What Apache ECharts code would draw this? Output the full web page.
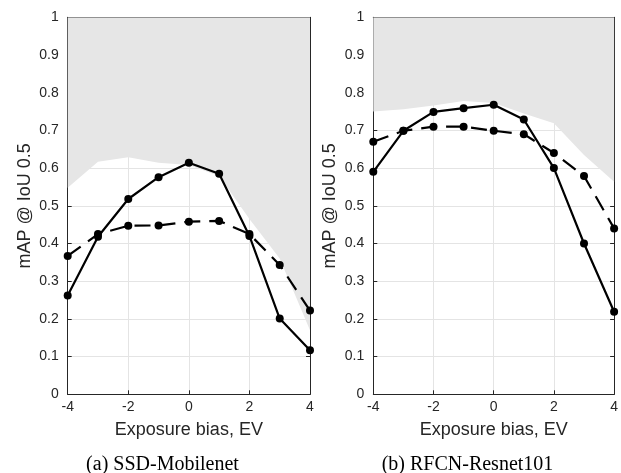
<!DOCTYPE html>
<html>
<head>
<meta charset="utf-8">
<script src="https://cdn.jsdelivr.net/npm/echarts@6/dist/echarts.min.js"></script>
<style>
html, body { margin: 0; padding: 0; background: #fff; }
#chart { width: 621px; height: 473px; }
</style>
</head>
<body>
<div id="chart"></div>
<script>
// exposure bias, EV
var evs = [-4, -3, -2, -1, 0, 1, 2, 3, 4];

// (a) SSD-Mobilenet
var ssdSolid = [0.262, 0.418, 0.518, 0.576, 0.614, 0.585, 0.420, 0.201, 0.117];
var ssdDashed = [0.367, 0.425, 0.447, 0.448, 0.458, 0.460, 0.425, 0.343, 0.222];
var ssdUpper = [0.548, 0.617, 0.629, 0.614, 0.608, 0.579, 0.465, 0.360, 0.170];

// (b) RFCN-Resnet101
var rfcnSolid = [0.590, 0.699, 0.749, 0.759, 0.768, 0.729, 0.600, 0.400, 0.219];
var rfcnDashed = [0.670, 0.699, 0.710, 0.710, 0.699, 0.690, 0.640, 0.579, 0.440];
var rfcnUpper = [0.750, 0.756, 0.766, 0.778, 0.773, 0.745, 0.719, 0.635, 0.564];

var captions = ['(a) SSD-Mobilenet', '(b) RFCN-Resnet101'];

var sans = 'Liberation Sans, Arial, Helvetica, sans-serif';
var ink = '#262626';

function pairs(ys){
	return evs.map(function(x, i){ return [x, ys[i]]; });
}

var grids = [
	{left: 67.7, top: 17.3, width: 242.3, height: 377},
	{left: 373.3, top: 17.3, width: 242.4, height: 377}
];

var xAxis = [], yAxis = [], series = [];

grids.forEach(function(g, gi){
	// bottom + top x axes
	xAxis.push({
		type: 'value', gridIndex: gi, min: -4, max: 4, interval: 2,
		name: 'Exposure bias, EV', nameLocation: 'middle', nameGap: 27,
		nameTextStyle: {fontFamily: sans, fontSize: 18, color: ink},
		axisLine: {show: true, onZero: false, lineStyle: {color: ink, width: 1}},
		axisTick: {show: true, inside: true, length: 4, lineStyle: {color: ink}},
		axisLabel: {margin: 6, fontFamily: sans, fontSize: 14, color: ink},
		splitLine: {show: true, lineStyle: {color: '#e4e4e4', width: 1}}
	});
	xAxis.push({
		type: 'value', gridIndex: gi, position: 'top', min: -4, max: 4, interval: 2,
		axisLine: {show: true, onZero: false, lineStyle: {color: ink, width: 1}},
		axisTick: {show: true, inside: true, length: 4, lineStyle: {color: ink}},
		axisLabel: {show: false},
		splitLine: {show: false}
	});
	// left + right y axes
	yAxis.push({
		type: 'value', gridIndex: gi, min: 0, max: 1, interval: 0.1,
		name: 'mAP @ IoU 0.5', nameLocation: 'middle', nameGap: 34,
		nameTextStyle: {fontFamily: sans, fontSize: 18, color: ink},
		axisLine: {show: true, onZero: false, lineStyle: {color: ink, width: 1}},
		axisTick: {show: true, inside: true, length: 4, lineStyle: {color: ink}},
		axisLabel: {
			margin: 9, fontFamily: sans, fontSize: 14, color: ink,
			formatter: function(v){ return String(Math.round(v * 10) / 10); }
		},
		splitLine: {show: true, lineStyle: {color: '#e4e4e4', width: 1}}
	});
	yAxis.push({
		type: 'value', gridIndex: gi, position: 'right', min: 0, max: 1, interval: 0.1,
		axisLine: {show: true, onZero: false, lineStyle: {color: ink, width: 1}},
		axisTick: {show: true, inside: true, length: 4, lineStyle: {color: ink}},
		axisLabel: {show: false},
		splitLine: {show: false}
	});
});

var sets = [
	{upper: ssdUpper, solid: ssdSolid, dashed: ssdDashed},
	{upper: rfcnUpper, solid: rfcnSolid, dashed: rfcnDashed}
];

sets.forEach(function(s, gi){
	var xi = gi * 2, yi = gi * 2;
	// grey region above the upper bound
	series.push({
		type: 'line', xAxisIndex: xi, yAxisIndex: yi, data: pairs(s.upper),
		showSymbol: false, silent: true, z: 1,
		lineStyle: {width: 0, color: '#e6e6e6'},
		areaStyle: {origin: 'end', color: '#e6e6e6', opacity: 1}
	});
	series.push({
		type: 'line', xAxisIndex: xi, yAxisIndex: yi, data: pairs(s.dashed),
		symbol: 'circle', symbolSize: 8, z: 3,
		itemStyle: {color: '#000'},
		lineStyle: {color: '#000', width: 2.2, type: [16, 9]}
	});
	series.push({
		type: 'line', xAxisIndex: xi, yAxisIndex: yi, data: pairs(s.solid),
		symbol: 'circle', symbolSize: 8, z: 4,
		itemStyle: {color: '#000'},
		lineStyle: {color: '#000', width: 2.2}
	});
});

var chart = echarts.init(document.getElementById('chart'), null, {renderer: 'canvas'});
chart.setOption({
	animation: false,
	backgroundColor: '#fff',
	grid: grids,
	xAxis: xAxis,
	yAxis: yAxis,
	series: series,
	graphic: captions.map(function(t, i){
		return {
			type: 'text', x: 162.5 + i * 305, y: 465,
			style: {
				text: t, align: 'center', verticalAlign: 'middle',
				font: '20px "Liberation Serif", "Times New Roman", serif', fill: '#000'
			}
		};
	})
});
</script>
</body>
</html>
